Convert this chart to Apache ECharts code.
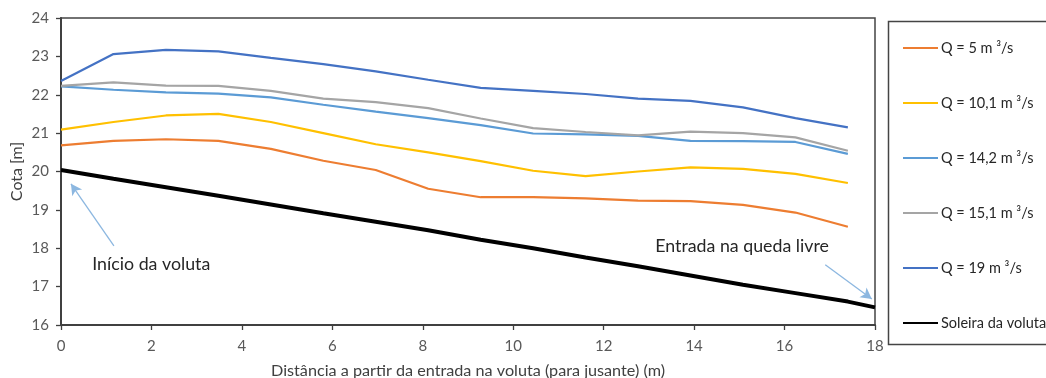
<!DOCTYPE html>
<html>
<head>
<meta charset="utf-8">
<script src="https://cdn.jsdelivr.net/npm/echarts@6/dist/echarts.min.js"></script>
<style>
  html, body { margin: 0; padding: 0; background: #fff; }
  #chart { width: 1046px; height: 378px; }
</style>
</head>
<body>
<div id="chart"></div>
<script>
// Distância a partir da entrada na voluta (m)
const distancias = [0, 1.16, 2.32, 3.48, 4.64, 5.8, 6.96, 8.12, 9.28, 10.44, 11.6, 12.76, 13.92, 15.08, 16.24, 17.4];
const distSoleira = [0, 1.16, 2.32, 3.48, 4.64, 5.8, 6.96, 8.12, 9.28, 10.44, 11.6, 12.76, 13.92, 15.08, 16.24, 17.4, 18];

// Cotas da superfície livre (m) para cada caudal
const cotaQ5   = [20.68, 20.80, 20.84, 20.80, 20.59, 20.28, 20.04, 19.55, 19.33, 19.33, 19.30, 19.24, 19.23, 19.13, 18.93, 18.56];
const cotaQ10  = [21.09, 21.29, 21.46, 21.50, 21.29, 21.00, 20.71, 20.50, 20.27, 20.02, 19.88, 20.00, 20.11, 20.07, 19.94, 19.70];
const cotaQ14  = [22.22, 22.13, 22.06, 22.03, 21.93, 21.74, 21.56, 21.39, 21.21, 20.99, 20.97, 20.93, 20.80, 20.79, 20.77, 20.46];
const cotaQ15  = [22.23, 22.32, 22.24, 22.23, 22.10, 21.90, 21.81, 21.65, 21.38, 21.13, 21.03, 20.94, 21.04, 21.00, 20.89, 20.54];
const cotaQ19  = [22.36, 23.06, 23.17, 23.13, 22.96, 22.80, 22.61, 22.39, 22.18, 22.10, 22.02, 21.90, 21.84, 21.67, 21.39, 21.15];
const soleira  = [20.04, 19.81, 19.59, 19.37, 19.14, 18.91, 18.69, 18.47, 18.22, 18.00, 17.76, 17.53, 17.29, 17.05, 16.83, 16.61, 16.46];

const nomes = ['Q = 5 m \u00b3/s', 'Q = 10,1 m \u00b3/s', 'Q = 14,2 m \u00b3/s', 'Q = 15,1 m \u00b3/s', 'Q = 19 m \u00b3/s', 'Soleira da voluta'];
const cores = ['#ED7D31', '#FFC000', '#5B9BD5', '#A5A5A5', '#4472C4', '#000000'];

const yTicks = [16, 17, 18, 19, 20, 21, 22, 23, 24];
const xTicks = [0, 2, 4, 6, 8, 10, 12, 14, 16, 18];

// Anotações (coordenadas em unidades do gráfico)
const notaInicio = { texto: 'Início da voluta', pos: [0.69, 17.59], setaDe: [1.17, 18.06], setaPara: [0.22, 19.68] };
const notaQueda = { texto: 'Entrada na queda livre', pos: [13.14, 18.04], setaDe: [16.9, 17.57], setaPara: [17.93, 16.68] };

const FONT = 'Lato, "Open Sans", sans-serif';
const pares = (xs, ys) => ys.map((y, i) => [xs[i], y]);

const seriesCotas = [cotaQ5, cotaQ10, cotaQ14, cotaQ15, cotaQ19].map((ys, i) => ({
  name: nomes[i],
  type: 'line',
  data: pares(distancias, ys),
  symbol: 'none',
  smooth: false,
  lineStyle: { color: cores[i], width: 2.2 },
  itemStyle: { color: cores[i] },
  z: 3
}));

const seta = (n) => [
  { coord: n.setaDe, symbol: 'none' },
  { coord: n.setaPara, symbol: 'arrow' }
];

seriesCotas.push({
  name: nomes[5],
  type: 'line',
  data: pares(distSoleira, soleira),
  symbol: 'none',
  lineStyle: { color: '#000', width: 4 },
  itemStyle: { color: '#000' },
  z: 4,
  markLine: {
    silent: true,
    symbol: ['none', 'arrow'],
    symbolSize: [9, 11],
    label: { show: false },
    lineStyle: { color: '#8CB7E0', width: 1.3, type: 'solid' },
    emphasis: { disabled: true },
    animation: false,
    data: [seta(notaInicio), seta(notaQueda)]
  }
});

const chart = echarts.init(document.getElementById('chart'), null, { renderer: 'canvas' });

const option = {
  animation: false,
  backgroundColor: '#fff',
  textStyle: { fontFamily: FONT },
  grid: {
    left: 61, right: 171, top: 18, bottom: 53,
    outerBoundsMode: 'none',
    containLabel: false,
    show: true, borderColor: '#444', borderWidth: 1.5, backgroundColor: 'transparent'
  },
  xAxis: {
    type: 'value',
    min: xTicks[0], max: xTicks[xTicks.length - 1], interval: 2,
    name: 'Distância a partir da entrada na voluta (para jusante) (m)',
    nameLocation: 'middle', nameGap: 38,
    nameTextStyle: { color: '#404040', fontSize: 16.2, fontFamily: FONT },
    axisLine: { show: true, onZero: false, lineStyle: { color: '#404040', width: 2 } },
    axisTick: { show: true, length: 5, inside: false, lineStyle: { color: '#404040', width: 1.3 } },
    axisLabel: { color: '#595959', fontSize: 15, margin: 14, fontFamily: FONT },
    splitLine: { show: false }
  },
  yAxis: {
    type: 'value',
    min: yTicks[0], max: yTicks[yTicks.length - 1], interval: 1,
    name: 'Cota [m]',
    nameLocation: 'middle', nameGap: 36, nameRotate: 90,
    nameMoveOverlap: false,
    nameTextStyle: { color: '#404040', fontSize: 16, fontFamily: FONT },
    axisLine: { show: true, onZero: false, lineStyle: { color: '#404040', width: 2 } },
    axisTick: { show: true, length: 5, inside: false, lineStyle: { color: '#404040', width: 1.3 } },
    axisLabel: { color: '#595959', fontSize: 15, margin: 12, fontFamily: FONT },
    splitLine: { show: false }
  },
  legend: {
    orient: 'vertical',
    left: 902, top: 39,
    padding: 0,
    itemGap: 37,
    itemWidth: 35, itemHeight: 18,
    selectedMode: false,
    itemStyle: { opacity: 0 },
    textStyle: { color: '#262626', fontSize: 14.5, lineHeight: 18, padding: [0, 0, 0, -2], fontFamily: FONT },
    data: nomes
  },
  graphic: [
    {
      type: 'rect',
      left: 886, top: 19,
      shape: { width: 200, height: 323 },
      style: { fill: 'none', stroke: '#444', lineWidth: 1.5 },
      silent: true, z: 0
    }
  ],
  series: seriesCotas
};

chart.setOption(option);

// Textos das anotações, posicionados a partir das coordenadas do gráfico
const textoNota = (n) => {
  const p = chart.convertToPixel({ gridIndex: 0 }, n.pos);
  return {
    type: 'text', x: p[0], y: p[1], silent: true, z: 10,
    style: { text: n.texto, fill: '#262626', font: '17.8px ' + FONT, verticalAlign: 'middle', align: 'left' }
  };
};
chart.setOption({ graphic: [option.graphic[0], textoNota(notaInicio), textoNota(notaQueda)] });
</script>
</body>
</html>
